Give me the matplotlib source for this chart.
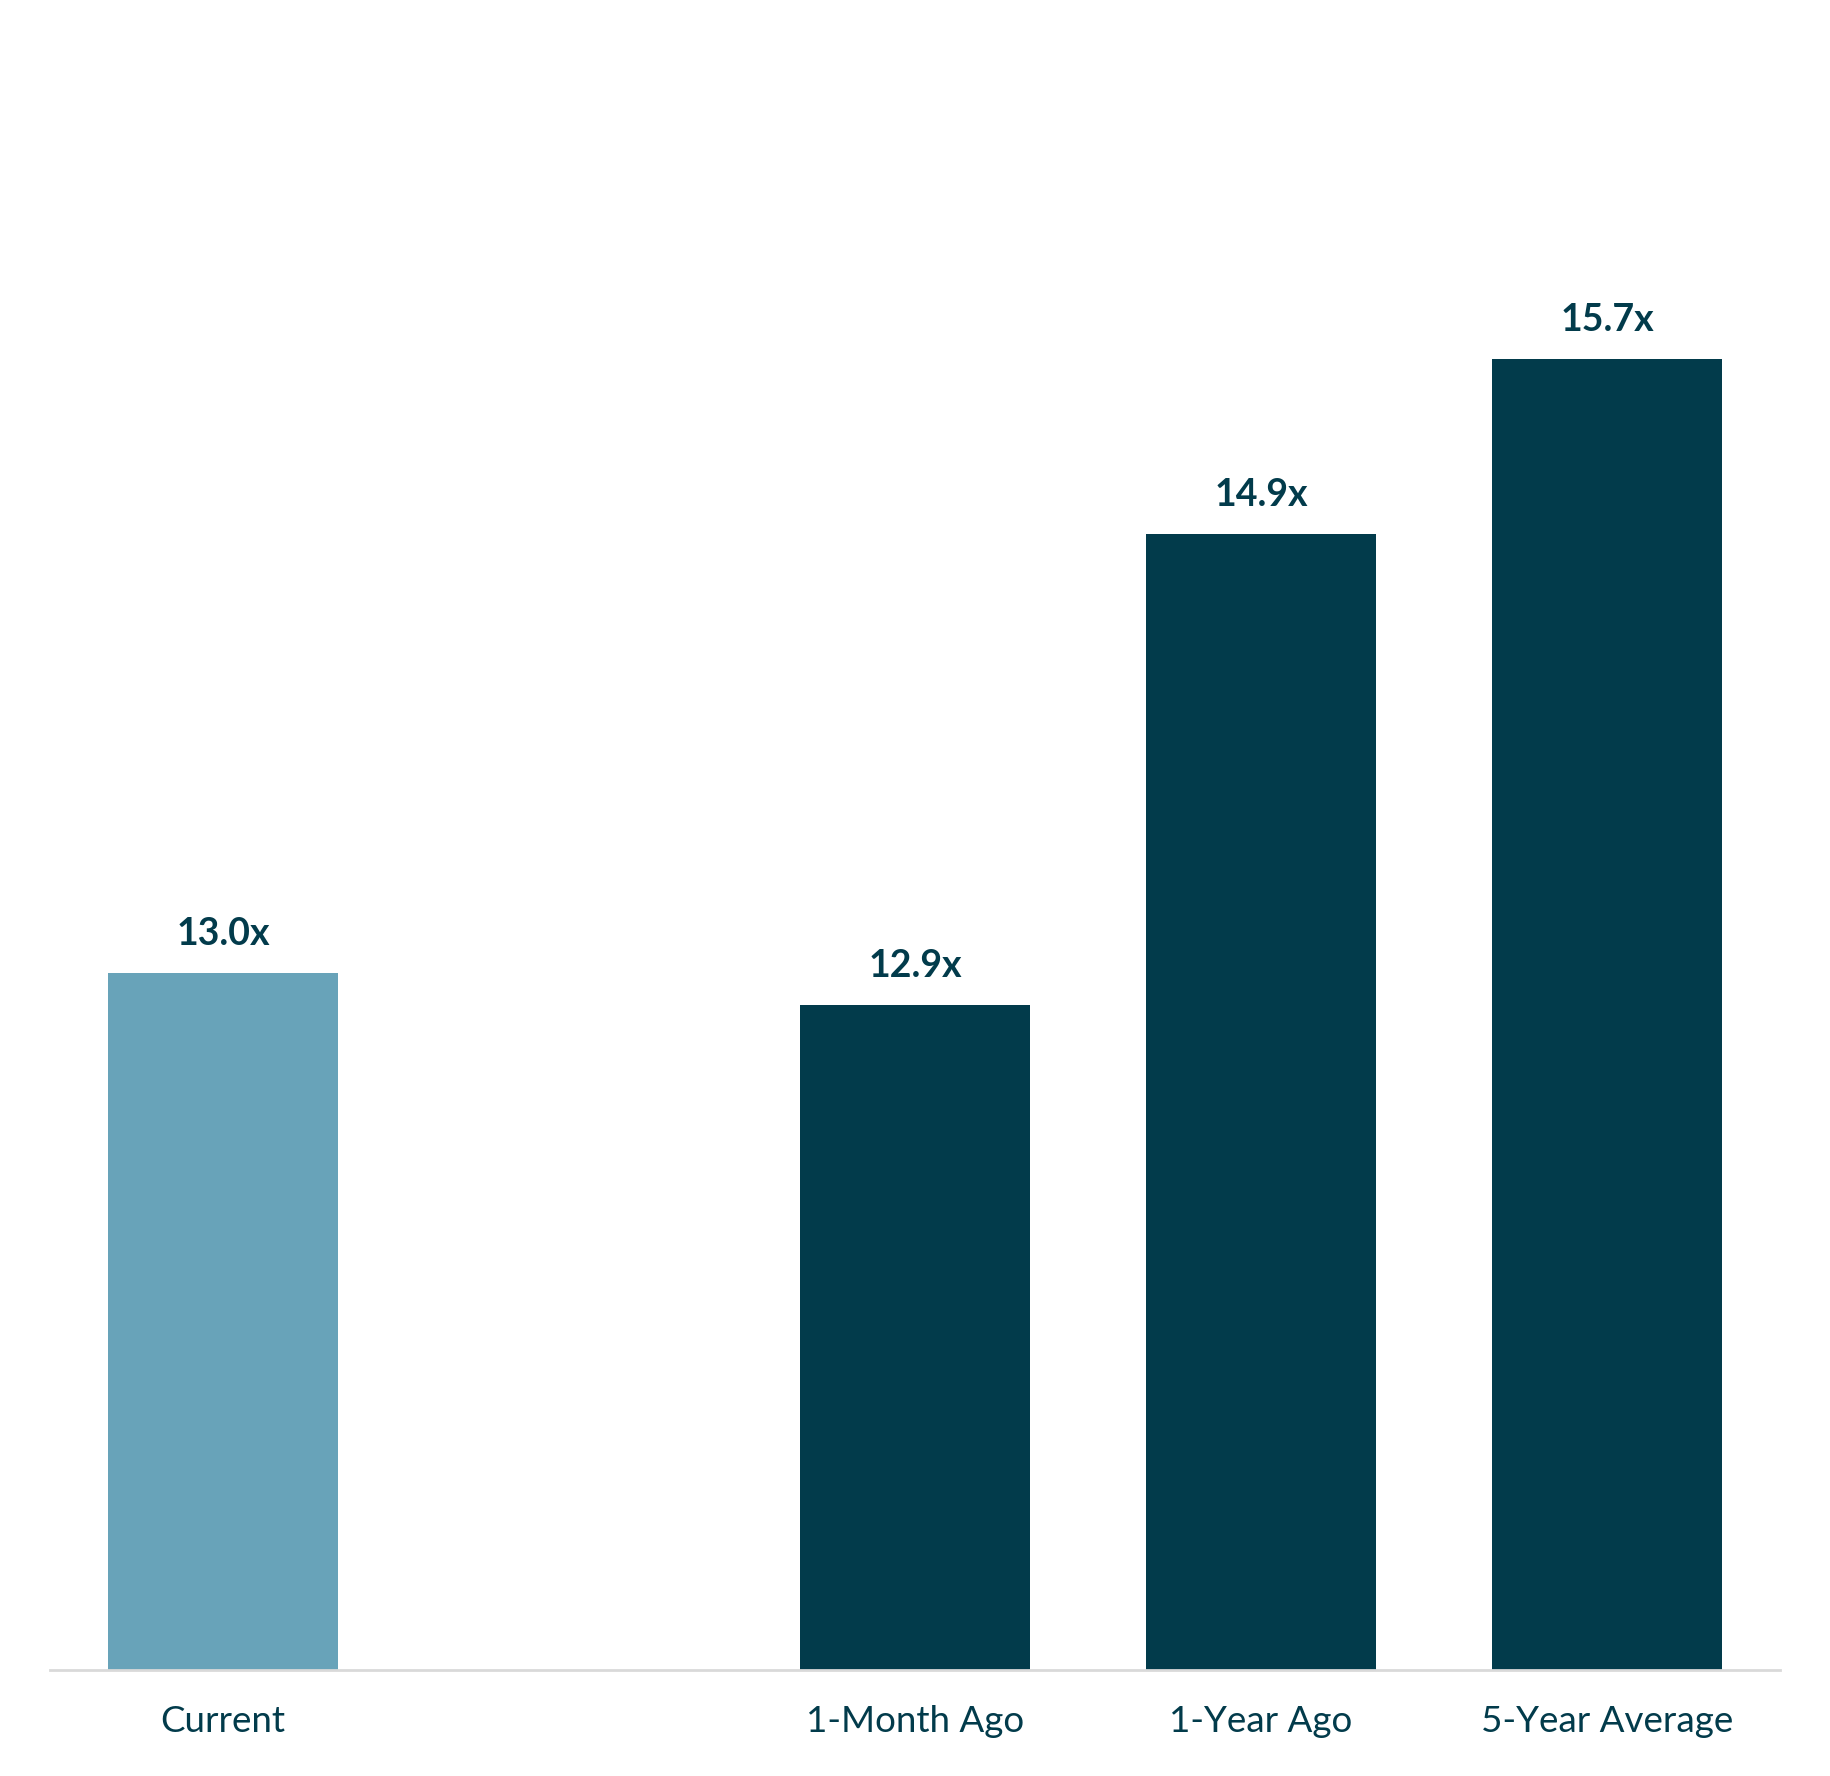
import matplotlib.pyplot as plt

# chart data
categories = ['Current', '', '1-Month Ago', '1-Year Ago', '5-Year Average']
values = [13.03, None, 12.89, 14.94, 15.70]
labels = ['13.0x', '', '12.9x', '14.9x', '15.7x']

light = '#68a3b9'
dark = '#023b4b'
bar_colors = [light, light, dark, dark, dark]

plt.rcParams['font.family'] = ['Lato', 'DejaVu Sans']

W, H = 1831, 1776
fig = plt.figure(figsize=(W / 100, H / 100), dpi=100)

# axes box in pixels: left 50, right 1780, baseline 1670, top at figure top
ax = fig.add_axes([50 / W, (H - 1670) / H, (1780 - 50) / W, 1670 / H])

x = list(range(len(categories)))
heights = [v - 10 if v is not None else 0 for v in values]
bars = ax.bar(x, heights, bottom=10, width=0.664, color=bar_colors)

ax.bar_label(bars, labels=labels, padding=16, fontsize=27, fontweight='bold', color=dark)

ax.set_xlim(-0.5, len(categories) - 0.5)
ax.set_ylim(10, 10 + 1670 / 230)

ax.set_xticks(x)
ax.set_xticklabels(categories, fontsize=26.5, color=dark)
ax.tick_params(axis='x', length=0, pad=25)
ax.set_yticks([])

for side in ['top', 'right', 'left']:
    ax.spines[side].set_visible(False)
ax.spines['bottom'].set_color('#d9d9d9')
ax.spines['bottom'].set_linewidth(2)

fig.savefig('out.png', dpi=100)
